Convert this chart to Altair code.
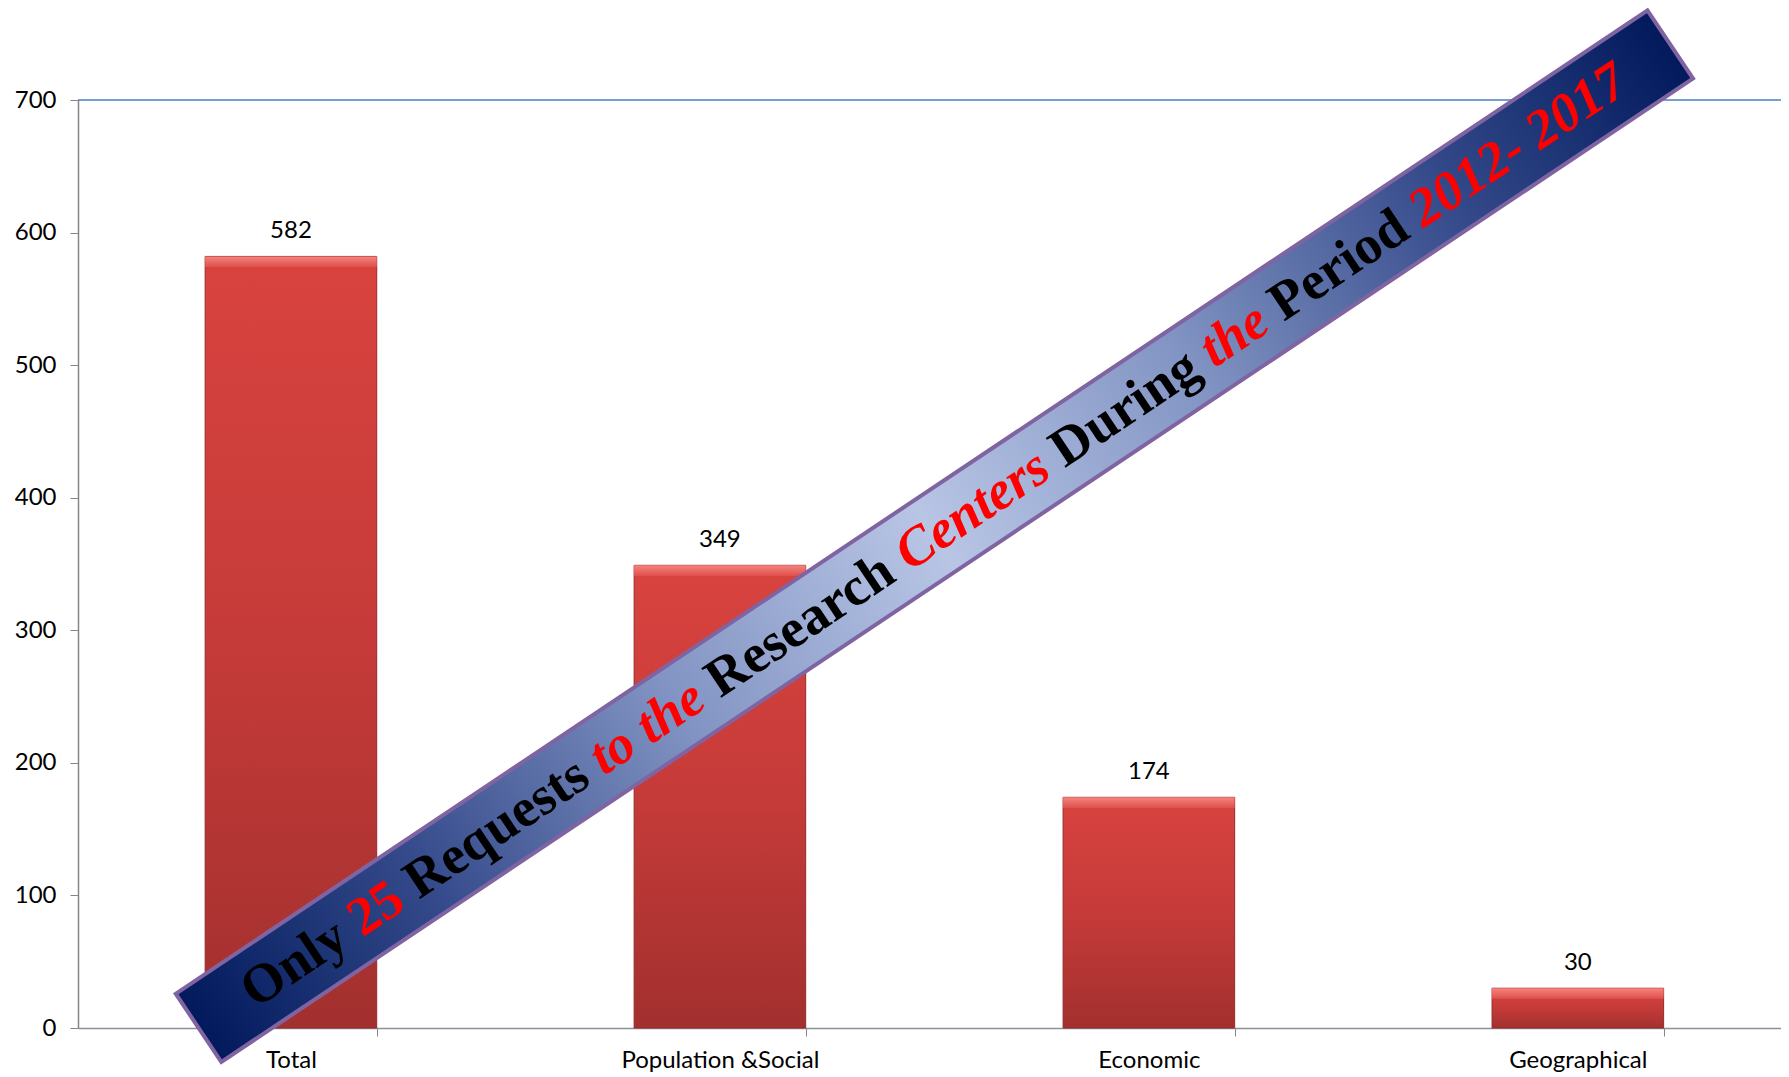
import altair as alt
import pandas as pd

# ---- data ----
categories = ["Total", "Population &Social", "Economic", "Geographical"]
values = [582, 349, 174, 30]
y_ticks = [0, 100, 200, 300, 400, 500, 600, 700]

banner_words = ["Only", "25", "Requests", "to the", "Research", "Centers",
                "During", "the", "Period", "2012- 2017"]
banner_red = [False, True, False, True, False, True, False, True, False, True]
banner_italic = [False, False, False, True, False, True, False, True, False, True]
banner_category = "Economic"   # banner centred on the gap before this band
banner_value = 371

# ---- styling helpers ----
FONT = "Lato"
FS = 24
BANNER_FS = 54.5
BANNER_ANGLE = 326.25
BANNER_LEN = 1770
BANNER_W = 82
WIDTH = 1703
PAD_IN, PAD_OUT = 0.6, 0.285
STEP = WIDTH / (len(categories) - PAD_IN + 2 * PAD_OUT)
GAP_SHIFT = STEP * PAD_IN / 2   # from band start back to the category boundary

TB = {" ": 250, "O": 778, "n": 556, "l": 278, "y": 500, "2": 500, "5": 500, "R": 722,
      "e": 444, "q": 556, "u": 556, "s": 389, "t": 333, "o": 500, "h": 556, "a": 500,
      "r": 444, "c": 444, "D": 722, "i": 278, "g": 500, "P": 611, "d": 556, "C": 722}
TBI = {" ": 250, "t": 278, "o": 500, "h": 556, "e": 444, "C": 667, "n": 556, "r": 389,
       "s": 389, "2": 500, "0": 500, "1": 500, "7": 500, "-": 333}


def wwidth(word, italic):
    table = TBI if italic else TB
    return sum(table.get(ch, 500) for ch in word)


centers = []
pos = 0
for w, it in zip(banner_words, banner_italic):
    wd = wwidth(w, it)
    centers.append(pos + wd / 2)
    pos += wd + 250
total = pos - 250
dxs = [(c - total / 2) * BANNER_FS / 1000 for c in centers]

df = pd.DataFrame({"category": categories, "value": values})
anchor = pd.DataFrame({"category": [banner_category], "value": [banner_value]})
words_df = pd.DataFrame({"idx": list(range(len(banner_words))), "word": banner_words,
                         "category": banner_category, "value": banner_value})
top_df = pd.DataFrame({"value": [y_ticks[-1]]})

xscale = alt.Scale(domain=categories, paddingInner=PAD_IN, paddingOuter=PAD_OUT, align=0.52)
yscale = alt.Scale(domain=[0, 700], nice=False)

x_enc = alt.X("category:N", scale=xscale, sort=categories,
              axis=alt.Axis(title=None, labelAngle=0, labelFont=FONT, labelFontSize=FS,
                            labelColor="#000000", labelPadding=12, labelLimit=600,
                            tickBand="extent",
                            tickSize=8, tickColor="#868686", domainColor="#8a8f99",
                            domainWidth=1.5, grid=False))
y_enc = alt.Y("value:Q", scale=yscale,
              axis=alt.Axis(title=None, values=y_ticks, labelFont=FONT, labelFontSize=FS,
                            labelColor="#000000", labelPadding=14, tickSize=8,
                            tickColor="#868686", domainColor="#868686", domainWidth=1.5,
                            grid=False))

bar_grad = alt.Gradient(gradient="linear",
                        stops=[alt.GradientStop(color="#d9433f", offset=0),
                               alt.GradientStop(color="#c53b39", offset=0.5),
                               alt.GradientStop(color="#a2302e", offset=1)],
                        x1=0, x2=0, y1=0, y2=1)

bars = alt.Chart(df).mark_bar(fill=bar_grad, stroke="#952b2a", strokeWidth=1).encode(
    x=x_enc, y=y_enc)

bevel = alt.Chart(df).transform_calculate(low="datum.value - 8").mark_bar(
    fill=alt.Gradient(gradient="linear",
                      stops=[alt.GradientStop(color="#f5837f", offset=0),
                             alt.GradientStop(color="#df504c", offset=1)],
                      x1=0, x2=0, y1=0, y2=1)).encode(
    x=alt.X("category:N", scale=xscale, sort=categories),
    y=alt.Y("value:Q", scale=yscale), y2="low:Q")

labels = alt.Chart(df).mark_text(font=FONT, fontSize=FS, color="#000000",
                                 baseline="alphabetic", dy=-18).encode(
    x=alt.X("category:N", scale=xscale, sort=categories),
    y=alt.Y("value:Q", scale=yscale), text="value:Q")

top_rule = alt.Chart(top_df).mark_rule(color="#4a7ebb", strokeWidth=1.5).encode(
    y=alt.Y("value:Q", scale=yscale))

h = BANNER_W / BANNER_LEN
banner_path = f"M -1 {-h} L 1 {-h} L 1 {h} L -1 {h} Z"
banner_grad = alt.Gradient(gradient="linear",
                           stops=[alt.GradientStop(color="#021a5c", offset=0),
                                  alt.GradientStop(color="#33498a", offset=0.15),
                                  alt.GradientStop(color="#8395c4", offset=0.33),
                                  alt.GradientStop(color="#b8c5e5", offset=0.5),
                                  alt.GradientStop(color="#8395c4", offset=0.67),
                                  alt.GradientStop(color="#33498a", offset=0.85),
                                  alt.GradientStop(color="#021a5c", offset=1)],
                           x1=0, x2=1, y1=0.5, y2=0.5)

bx = alt.X("category:N", scale=xscale, sort=categories, bandPosition=0)
banner = alt.Chart(anchor).mark_point(shape=banner_path, size=BANNER_LEN ** 2,
                                      angle=BANNER_ANGLE, filled=True, fill=banner_grad,
                                      opacity=1, stroke="#8064a2", strokeWidth=4,
                                      strokeOpacity=1).encode(
    x=bx, xOffset=alt.value(-GAP_SHIFT), y=alt.Y("value:Q", scale=yscale))

word_layers = []
for i, w in enumerate(banner_words):
    word_layers.append(
        alt.Chart(words_df).transform_filter(alt.datum.idx == i).mark_text(
            font="Liberation Serif", fontSize=BANNER_FS, fontWeight="bold",
            fontStyle="italic" if banner_italic[i] else "normal",
            color="#ff0000" if banner_red[i] else "#000000",
            angle=BANNER_ANGLE, dx=dxs[i], dy=0, align="center", baseline="middle").encode(
            x=bx, xOffset=alt.value(-GAP_SHIFT),
            y=alt.Y("value:Q", scale=yscale), text="word:N"))

chart = alt.layer(bars, bevel, labels, top_rule, banner, *word_layers).properties(
    width=WIDTH, height=928,
    padding={"left": 70, "top": 92, "right": 0, "bottom": 45},
    autosize=alt.AutoSizeParams(type="none"),
).configure_view(strokeWidth=0)

chart.save("out.html", embed_options={"renderer": "svg", "actions": False})
